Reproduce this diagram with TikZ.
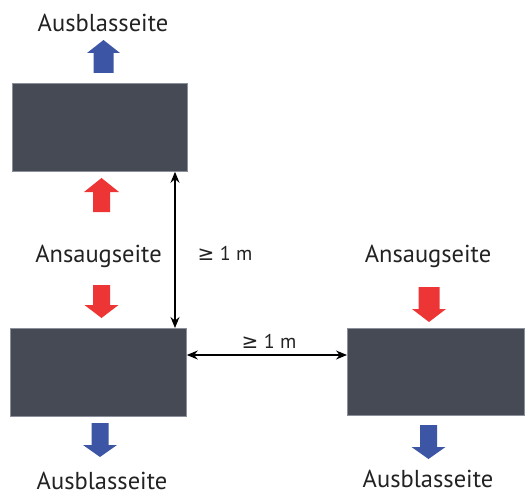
\documentclass[tikz,border=0pt]{standalone}
\usepackage{fontspec}
\setmainfont{PT Sans}
\newfontfamily\symfont{DejaVu Sans}
\usetikzlibrary{arrows.meta}
\definecolor{boxfill}{HTML}{454A55}
\definecolor{boxline}{HTML}{8A8F99}
\definecolor{airred}{HTML}{EE3535}
\definecolor{airblue}{HTML}{3C55A5}
\definecolor{txt}{HTML}{222222}
\tikzset{
  unit/.style={draw=boxline, line width=0.8pt, fill=boxfill, inner sep=0pt, anchor=north west},
  lab/.style={anchor=base, inner sep=0pt, text=txt, font=\fontsize{24.5}{28}\selectfont},
  dim/.style={anchor=base, inner sep=0pt, text=txt, font=\fontsize{20}{24}\selectfont},
  dimline/.style={line width=1.2pt, {Stealth[length=11pt,width=9pt]}-{Stealth[length=11pt,width=9pt]}},
}
% up arrow: #1 colour, (#2,#3) tip, shaft half width #4, head half width #5, head length #6, total length #7
\newcommand{\uparr}[7]{\fill[#1] (#2,#3) -- (#2+#5,#3+#6) -- (#2+#4,#3+#6) -- (#2+#4,#3+#7) -- (#2-#4,#3+#7) -- (#2-#4,#3+#6) -- (#2-#5,#3+#6) -- cycle;}
\newcommand{\downarr}[7]{\fill[#1] (#2,#3) -- (#2+#5,#3-#6) -- (#2+#4,#3-#6) -- (#2+#4,#3-#7) -- (#2-#4,#3-#7) -- (#2-#4,#3-#6) -- (#2-#5,#3-#6) -- cycle;}
\begin{document}
\begin{tikzpicture}[x=1pt,y=-1pt]
\useasboundingbox (0,0) rectangle (525,495);
% units
\node[unit, minimum width=175pt, minimum height=88pt] (top) at (12,83) {};
\node[unit, minimum width=176pt, minimum height=88pt] (bl) at (10,328) {};
\node[unit, minimum width=177pt, minimum height=87pt] (br) at (347,328) {};
% air arrows
\uparr{airblue}{103.5}{40}{10}{16.5}{13}{33}
\uparr{airred}{101.5}{178}{8.5}{17.5}{14}{34}
\downarr{airred}{101.5}{318}{8.5}{17}{13}{33}
\downarr{airred}{429}{322}{10.5}{17}{13}{35}
\downarr{airblue}{100}{457}{8.5}{17}{12}{34}
\downarr{airblue}{428.5}{459}{8.5}{17}{12}{34}
% labels
\node[lab] (t1) at (103,32) {Ausblasseite};
\node[lab] (t2) at (98.5,262) {Ansaugseite};
\node[lab] (t3) at (428,262) {Ansaugseite};
\node[lab] (t4) at (102,489) {Ausblasseite};
\node[lab] (t5) at (428,487) {Ausblasseite};
% distances
\draw[dimline] (175,0 |- top.south) -- (175,0 |- bl.north);
\draw[dimline] (bl.east |- 0,355) -- (br.west |- 0,355);
\node[dim] (d1) at (225,260) {{\symfont ≥} 1 m};
\node[dim] (d2) at (269,348) {{\symfont ≥} 1 m};
\end{tikzpicture}
\end{document}
